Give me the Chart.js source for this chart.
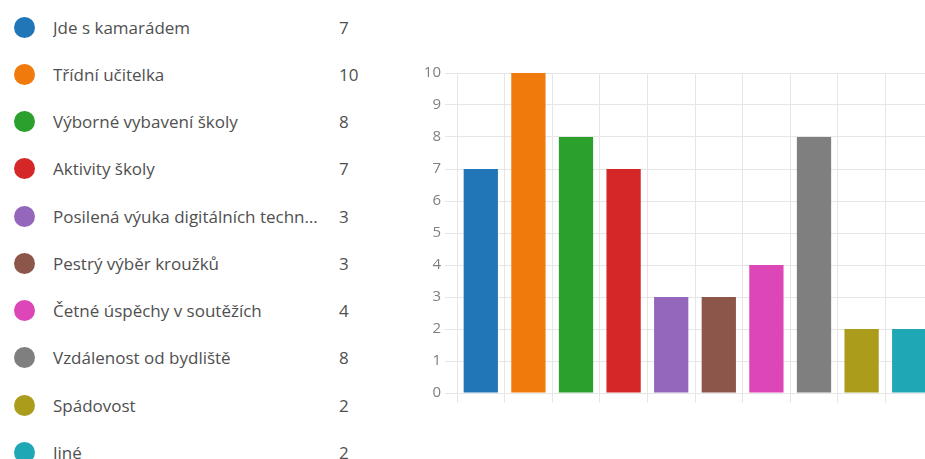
<!DOCTYPE html>
<html>
<head>
<meta charset="utf-8">
<script src="https://cdn.jsdelivr.net/npm/chart.js@4"></script>
<style>
  html, body { margin: 0; padding: 0; background: #fff; width: 925px; height: 459px; overflow: hidden; }
  #legend { position: absolute; left: 0; top: 0; width: 380px; font-family: "Open Sans", "Noto Sans", sans-serif; font-size: 17px; color: #505050; }
  .row { position: absolute; left: 0; height: 20px; width: 380px; }
  .dot { position: absolute; left: 14px; top: 0; width: 21px; height: 21px; border-radius: 50%; }
  .lab { position: absolute; left: 53px; top: 0; line-height: 21px; width: 270px; white-space: nowrap; overflow: hidden; text-overflow: ellipsis; }
  .val { position: absolute; left: 339px; top: 0; line-height: 21px; }
  #wrap { position: absolute; left: 412px; top: 60px; width: 521px; height: 346px; }
</style>
</head>
<body>
<div id="legend"></div>
<div id="wrap"><canvas id="c"></canvas></div>
<script>
const categories = [
  "Jde s kamarádem",
  "Třídní učitelka",
  "Výborné vybavení školy",
  "Aktivity školy",
  "Posilená výuka digitálních technologií",
  "Pestrý výběr kroužků",
  "Četné úspěchy v soutěžích",
  "Vzdálenost od bydliště",
  "Spádovost",
  "Jiné"
];
const counts = [7, 10, 8, 7, 3, 3, 4, 8, 2, 2];
const colors = ["#2176b8", "#f07a0c", "#2ca02c", "#d62728", "#9467bd", "#8c564b", "#dc46b6", "#7f7f7f", "#ab9c1b", "#20a7b6"];
const yTicks = [0, 1, 2, 3, 4, 5, 6, 7, 8, 9, 10];

// legend list
const legend = document.getElementById('legend');
categories.forEach((name, i) => {
  const row = document.createElement('div');
  row.className = 'row';
  row.style.top = (16.5 + i * 47.25) + 'px';
  row.innerHTML = '<div class="dot" style="background:' + colors[i] + '"></div>' +
    '<div class="lab"></div><div class="val"></div>';
  row.querySelector('.lab').textContent = name;
  row.querySelector('.val').textContent = counts[i];
  legend.appendChild(row);
});

new Chart(document.getElementById('c'), {
  type: 'bar',
  data: {
    labels: categories,
    datasets: [{ data: counts, backgroundColor: colors, borderWidth: 0 }]
  },
  options: {
    responsive: true,
    maintainAspectRatio: false,
    animation: false,
    layout: { padding: { top: 13, left: 0, right: 0, bottom: 0 } },
    plugins: { legend: { display: false }, tooltip: { enabled: false } },
    scales: {
      x: {
        ticks: { display: false },
        grid: { color: '#e6e6e6', tickLength: 10, offset: true },
        border: { color: '#e6e6e6' },
        afterFit: s => { s.height = 10; }
      },
      y: {
        min: 0, max: 10,
        afterBuildTicks: s => { s.ticks = yTicks.map(v => ({ value: v })); },
        ticks: { color: '#808080', padding: 4, font: { family: '"Open Sans", "Noto Sans", sans-serif', size: 15 } },
        grid: { color: '#e6e6e6', tickLength: 12 },
        border: { color: '#e6e6e6' },
        afterFit: s => { s.width = 45; }
      }
    }
  }
});
</script>
</body>
</html>
